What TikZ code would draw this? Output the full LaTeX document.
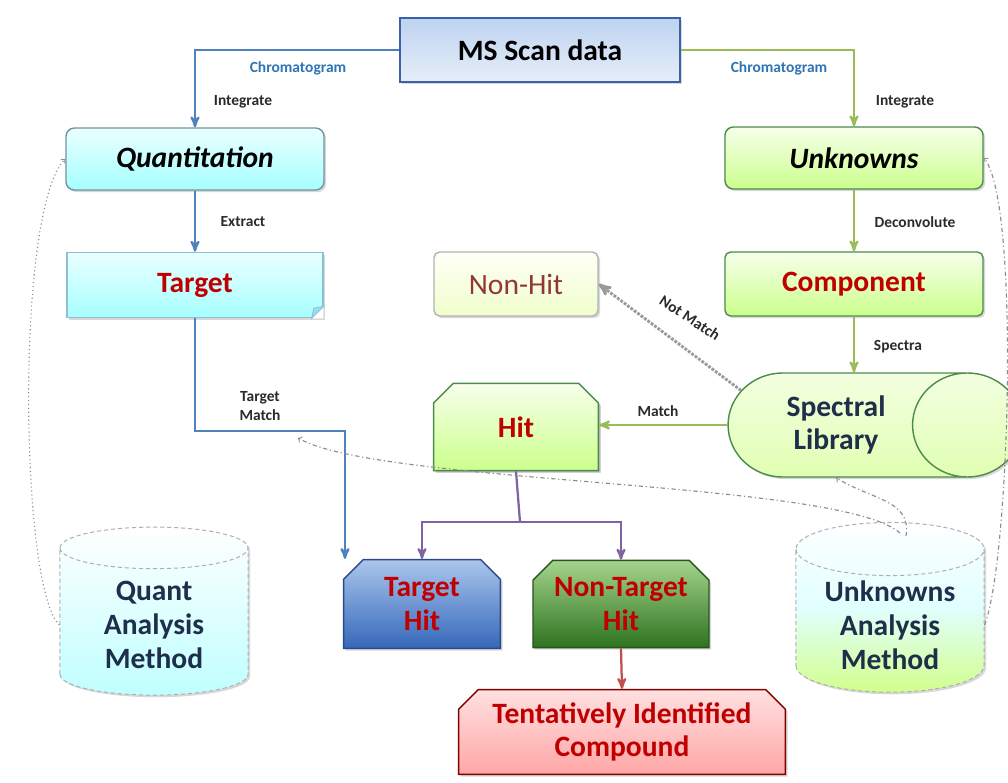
\documentclass[tikz,border=0pt]{standalone}
\usepackage{fontspec}
\setmainfont{Carlito}
\usetikzlibrary{arrows,shapes.geometric,shapes.misc,shadows,calc}

\definecolor{lineblue}{HTML}{4F81BD}
\definecolor{linegreen}{HTML}{9BBB59}
\definecolor{linepurple}{HTML}{8064A2}
\definecolor{linered}{HTML}{C0504D}
\definecolor{chromblue}{HTML}{2E75B6}
\definecolor{hitred}{HTML}{C00000}
\definecolor{nonhitred}{HTML}{943634}
\definecolor{navy}{HTML}{1F2E4A}
\definecolor{lblgray}{HTML}{2B2B2B}
\definecolor{dashgray}{HTML}{8C8C8C}

\begin{document}
\begin{tikzpicture}[x=0.025cm, y=-0.025cm, >=stealth', line width=1.6pt,
	box/.style={draw, align=center, font=\fontsize{21}{24}\selectfont\bfseries, line width=1pt,
		drop shadow={opacity=0.3, shadow xshift=1.5pt, shadow yshift=-1.5pt}},
	snip/.style={box, chamfered rectangle, chamfered rectangle corners={north west,north east},
		chamfered rectangle xsep=7pt, chamfered rectangle ysep=7pt, inner sep=0pt, text=hitred},
	cyanbox/.style={box, top color=cyan!8, bottom color=cyan!35!white, draw=cyan!40!black!70},
	greenbox/.style={box, top color=green!40!yellow!8, bottom color=green!45!yellow!45!white, draw=green!35!black!70},
	methcyl/.style={box, cylinder, shape border rotate=90, aspect=0.38, minimum width=4.7cm, minimum height=4.2cm,
		draw=dashgray!70, densely dashed, line width=0.7pt, text=navy, drop shadow={opacity=0}},
	lbl/.style={font=\fontsize{11}{14}\selectfont\bfseries, text=lblgray, align=center},
	chrom/.style={lbl, text=chromblue},
	bluearr/.style={->, lineblue},
	greenarr/.style={->, linegreen},
	purplearr/.style={->, linepurple},
	backarr/.style={-to, dashgray, line width=0.8pt, dash dot}]

	\useasboundingbox (0,0) rectangle (1008,783);
	\fill[white] (0,0) rectangle (1008,783);

	\node[box, top color={rgb,255:red,190;green,211;blue,240}, bottom color={rgb,255:red,230;green,238;blue,249},
		draw={rgb,255:red,58;green,98;blue,168}, line width=1.6pt,
		minimum width=7cm, minimum height=1.6cm] (ms) at (540,50) {MS Scan data};
	\node[cyanbox, rounded corners=6pt, minimum width=6.45cm, minimum height=1.55cm,
		font=\fontsize{21}{24}\selectfont\bfseries\itshape] (quant) at (195,159) {Quantitation};
	\node[cyanbox, draw=cyan!50!gray!70, text=hitred, minimum width=6.4cm, minimum height=1.63cm] (tgt) at (195,285) {Target};
	\node[greenbox, rounded corners=6pt, minimum width=6.45cm, minimum height=1.55cm,
		font=\fontsize{21}{24}\selectfont\bfseries\itshape] (unk) at (854,158) {Unknowns};
	\node[greenbox, rounded corners=4pt, text=hitred, minimum width=6.45cm, minimum height=1.6cm] (comp) at (854,284) {Component};
	\node[box, rounded corners=4pt, top color=yellow!3, bottom color=green!30!yellow!20!white, draw=gray!60,
		font=\fontsize{21}{24}\selectfont, text=nonhitred, minimum width=4.1cm, minimum height=1.6cm] (nonhit) at (516,284) {Non-Hit};
	\node[greenbox, snip, minimum width=4.12cm, minimum height=2.18cm] (hit) at (516,427) {Hit};
	\node[greenbox, cylinder, aspect=1.6, minimum width=2.6cm, minimum height=7.35cm, text=navy,
		top color=green!40!yellow!12, bottom color=green!40!yellow!30!white] (speclib) at (836,425) {Spectral\\Library};
	\node[snip, top color={rgb,255:red,170;green,198;blue,236}, bottom color={rgb,255:red,53;green,103;blue,185},
		draw={rgb,255:red,40;green,75;blue,135}, minimum width=3.92cm, minimum height=2.22cm] (thit) at (422,604) {Target\\Hit};
	\node[snip, top color={rgb,255:red,165;green,212;blue,140}, bottom color={rgb,255:red,45;green,115;blue,32},
		draw={rgb,255:red,40;green,85;blue,30}, minimum width=4.4cm, minimum height=2.18cm] (nthit) at (621,604) {Non-Target\\Hit};
	\node[snip, top color=red!12!white, bottom color=red!35!white, draw=red!50!black,
		minimum width=8.17cm, minimum height=2.12cm] (tic) at (622,732) {Tentatively Identified\\Compound};
	\node[methcyl, top color=white, bottom color=cyan!25!white] (qam) at (154,625) {Quant\\Analysis\\Method};
	\node[methcyl, top color=white, bottom color=green!40!yellow!45!white, middle color=cyan!12!white] (uam) at (890,625) {Unknowns\\Analysis\\Method};

	\fill[white] (tgt.south east) -- ++(-12,0) -- ++(12,-12) -- cycle;
	\filldraw[cyan!40, draw=cyan!50!gray!70, line width=0.6pt] ($(tgt.south east)+(-12,0)$) -- ++(2,-10) -- ++(10,-2) -- cycle;

	\coordinate (tm) at (345,431);
	\coordinate (hb) at (520,522);
	\coordinate (ua1) at (906,536);
	\coordinate (ua2) at (900,533);

	\draw[bluearr] (ms.west) -| (quant.north);
	\draw[bluearr] (quant.south) -- (tgt.north);
	\draw[bluearr] (tgt.south) |- (tm) -- (tm |- thit.north);
	\draw[greenarr] (ms.east) -| (unk.north);
	\draw[greenarr] (unk.south) -- (comp.north);
	\draw[greenarr] (comp.south) -- (comp.south |- speclib.north);
	\draw[greenarr] (speclib.west) -- (speclib.west -| hit.east);
	\draw[->, gray!80, densely dotted, line width=2pt] (speclib.160) -- (nonhit.east);
	\draw[linepurple] (hit.south) -- (hb);
	\draw[purplearr] (hb) -| (thit.north);
	\draw[purplearr] (hb) -| (nthit.north);
	\draw[->, linered] (nthit.south) -- (tic.north);

	\draw[backarr, dotted] (qam.west) .. controls (20,590) and (15,210) .. (quant.west);
	\draw[backarr] (uam.east) .. controls (1010,560) and (1020,200) .. (unk.east);
	\draw[backarr] (ua1) .. controls (912,500) and (872,500) .. (speclib.south);
	\draw[backarr] (ua2) .. controls (840,480) and (380,485) .. (298,438);

	\node[chrom] at (298,68) {Chromatogram};
	\node[chrom] at (779,68) {Chromatogram};
	\node[lbl] at (243,102) {Integrate};
	\node[lbl] at (905,102) {Integrate};
	\node[lbl] at (243,222) {Extract};
	\node[lbl] at (915,222) {Deconvolute};
	\node[lbl] at (898,347) {Spectra};
	\node[lbl] at (658,411) {Match};
	\node[lbl] at (260,406) {Target\\Match};
	\node[lbl, rotate=-33] at (690,318) {Not Match};
\end{tikzpicture}
\end{document}
